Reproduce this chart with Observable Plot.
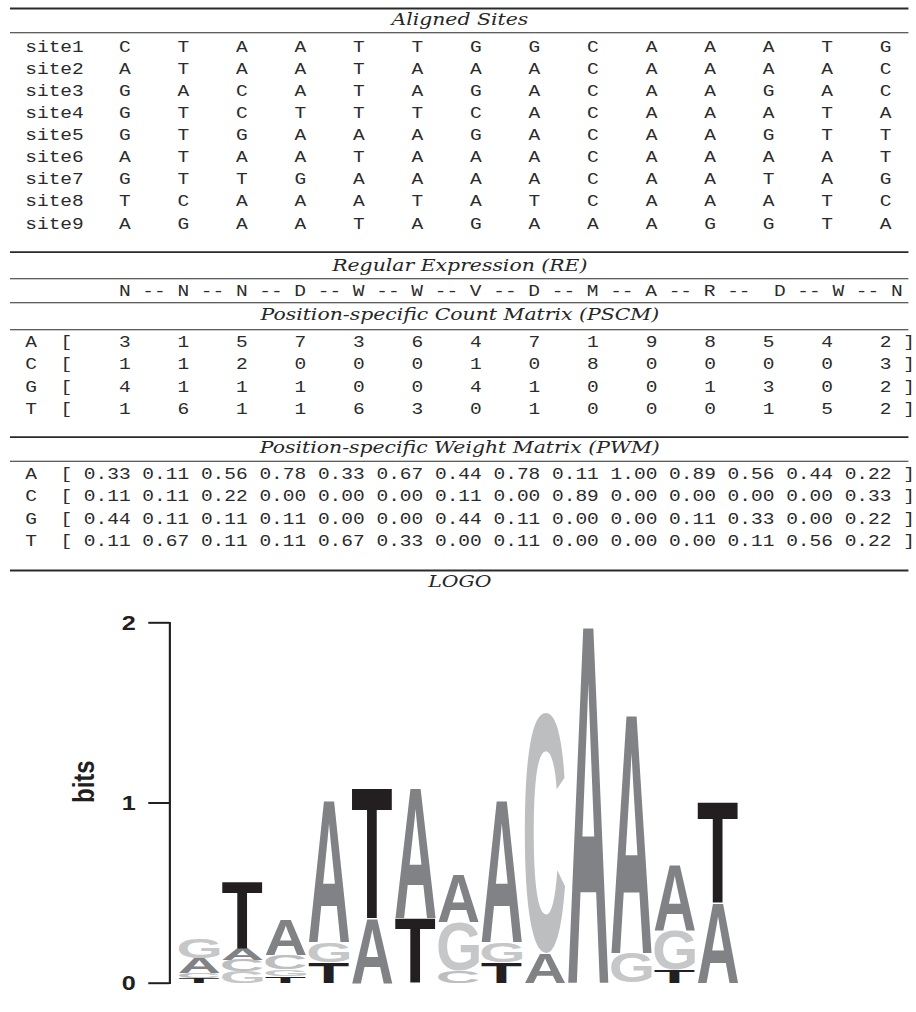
<!DOCTYPE html>
<html>
<head>
<meta charset="utf-8">
<script src="https://cdn.jsdelivr.net/npm/d3@7"></script>
<script src="https://cdn.jsdelivr.net/npm/@observablehq/plot@0.6"></script>
<style>
  html, body { margin: 0; padding: 0; background: #fff; }
  #chart svg { display: block; }
</style>
</head>
<body>
<div id="chart"></div>
<script>
// ---------------- DATA ----------------
const siteNames = ["site1", "site2", "site3", "site4", "site5", "site6", "site7", "site8", "site9"];
const sites = [
  "CTAATTGGCAAATG",
  "ATAATAAACAAAAC",
  "GACATAGACAAGAC",
  "GTCTTTCACAAATA",
  "GTGAAAGACAAGTT",
  "ATAATAAACAAAAT",
  "GTTGAAAACAATAG",
  "TCAAATATCAAATC",
  "AGAATAGAAAGGTA"
];
const reRow = "N -- N -- N -- D -- W -- W -- V -- D -- M -- A -- R --  D -- W -- N";
const bases = ["A", "C", "G", "T"];
const positions = [1, 2, 3, 4, 5, 6, 7, 8, 9, 10, 11, 12, 13, 14];

const countA = [3, 1, 5, 7, 3, 6, 4, 7, 1, 9, 8, 5, 4, 2];
const countC = [1, 1, 2, 0, 0, 0, 1, 0, 8, 0, 0, 0, 0, 3];
const countG = [4, 1, 1, 1, 0, 0, 4, 1, 0, 0, 1, 3, 0, 2];
const countT = [1, 6, 1, 1, 6, 3, 0, 1, 0, 0, 0, 1, 5, 2];

const pwmA = [0.33, 0.11, 0.56, 0.78, 0.33, 0.67, 0.44, 0.78, 0.11, 1.00, 0.89, 0.56, 0.44, 0.22];
const pwmC = [0.11, 0.11, 0.22, 0.00, 0.00, 0.00, 0.11, 0.00, 0.89, 0.00, 0.00, 0.00, 0.00, 0.33];
const pwmG = [0.44, 0.11, 0.11, 0.11, 0.00, 0.00, 0.44, 0.11, 0.00, 0.00, 0.11, 0.33, 0.00, 0.22];
const pwmT = [0.11, 0.67, 0.11, 0.11, 0.67, 0.33, 0.00, 0.11, 0.00, 0.00, 0.00, 0.11, 0.56, 0.22];

const sectionTitles = [
  "Aligned Sites",
  "Regular Expression (RE)",
  "Position-specific Count Matrix (PSCM)",
  "Position-specific Weight Matrix (PWM)",
  "LOGO"
];
const bitTicks = [0, 1, 2];
const axisLabel = "bits";
const baseColors = ["#808285", "#bdbec0", "#c6c7c9", "#231f20"];

// ---------------- LAYOUT ----------------
const W = 916, VW = 763;              // page width, drawing width (stretched horizontally)
const H1 = 592, H2 = 1012 - H1;       // table part, logo part
const CH = 9.75;                      // monospace advance (drawing units)
const monoSize = CH / 0.6;
const colEnd = i => 11 + 5 * i;       // right edge of column i in character cells
const siteY = r => 46 + 22.1 * r;
const cntY = k => 341 + 22.45 * k;
const pwmY = k => 473 + 22.4 * k;
const reY = 290.5;
const titleY = [19, 265, 314.5, 447.5, 580.7];
const thickRules = [8, 251.7, 436.7, 570];
const thinRules = [32.3, 278.3, 302.3, 329.3, 460.7];

const mono = {fontFamily: "'Liberation Mono', 'DejaVu Sans Mono', monospace", fontSize: monoSize, fill: "#2b2b2b"};
const counts = [countA, countC, countG, countT];
const pwm = [pwmA, pwmC, pwmG, pwmT];
const fmt = d3.format(".2f");

const siteCells = sites.flatMap((seq, r) => Array.from(seq, (b, i) => ({r, i, b})));
const countCells = bases.flatMap((b, k) => counts[k].map((v, i) => ({k, i, v})));
const pwmCells = bases.flatMap((b, k) => pwm[k].map((v, i) => ({k, i, v})));
const titles = sectionTitles.map((t, j) => ({t, y: titleY[j]}));

const table = Plot.plot({
  width: VW, height: H1,
  marginLeft: 8.3, marginRight: 6.3, marginTop: 0, marginBottom: 0,
  x: {domain: [0, 78], range: [1.05, 1.05 + 78 * CH], axis: null},
  y: {type: "identity", axis: null},
  style: {background: "white", whiteSpace: "pre"},
  marks: [
    Plot.ruleY(thickRules, {y: d => d, stroke: "#2a2a2a", strokeWidth: 1.8}),
    Plot.ruleY(thinRules, {y: d => d, stroke: "#2a2a2a", strokeWidth: 1.1}),
    Plot.text(titles, {y: "y", text: "t", frameAnchor: "middle",
      fontFamily: "'DejaVu Serif', serif", fontStyle: "italic", fontSize: 17, fill: "#262626"}),
    // Aligned sites
    Plot.text(siteNames, {x: () => 2, y: (d, i) => siteY(i), text: d => d, textAnchor: "start", ...mono}),
    Plot.text(siteCells, {x: d => colEnd(d.i), y: d => siteY(d.r), text: "b", textAnchor: "end", ...mono}),
    // Regular expression
    Plot.text([reRow], {x: () => 10, y: () => reY, text: d => d, textAnchor: "start", ...mono}),
    // PSCM
    Plot.text(bases, {x: () => 2, y: (d, i) => cntY(i), text: d => d, textAnchor: "start", ...mono}),
    Plot.text(bases, {x: () => 5, y: (d, i) => cntY(i), text: () => "[", textAnchor: "start", ...mono}),
    Plot.text(countCells, {x: d => colEnd(d.i), y: d => cntY(d.k), text: d => String(d.v), textAnchor: "end", ...mono}),
    Plot.text(bases, {x: () => 77, y: (d, i) => cntY(i), text: () => "]", textAnchor: "start", ...mono}),
    // PWM
    Plot.text(bases, {x: () => 2, y: (d, i) => pwmY(i), text: d => d, textAnchor: "start", ...mono}),
    Plot.text(bases, {x: () => 5, y: (d, i) => pwmY(i), text: () => "[", textAnchor: "start", ...mono}),
    Plot.text(pwmCells, {x: d => colEnd(d.i), y: d => pwmY(d.k), text: d => fmt(d.v), textAnchor: "end", ...mono}),
    Plot.text(bases, {x: () => 77, y: (d, i) => pwmY(i), text: () => "]", textAnchor: "start", ...mono})
  ]
});

// ---------------- LOGO ----------------
const logoLetters = [];
positions.forEach((pos, i) => {
  const col = bases.map((b, k) => ({b, p: pwm[k][i]}));
  const H = -d3.sum(col, d => (d.p > 0 ? d.p * Math.log2(d.p) : 0));
  const ic = 2 - H;
  if (ic < 0.05) return; // near-zero stack is not drawn in the reference
  const stack = col.filter(d => d.p > 0)
    .sort((a, b) => a.p - b.p || bases.indexOf(b.b) - bases.indexOf(a.b));
  let y = 0;
  for (const d of stack) {
    const h = d.p * ic;
    logoLetters.push({pos, base: d.b, y1: y, y2: y + h});
    y += h;
  }
});

const LETTER_FONT = "'Liberation Sans', Arial, sans-serif";
const logo = Plot.plot({
  width: VW, height: H2,
  marginTop: 30.3, marginBottom: 29.3, marginLeft: 141, marginRight: 107,
  x: {type: "band", domain: positions, range: [145, 655.7], padding: 0, axis: null},
  y: {domain: [0, 2], axis: null},
  color: {domain: bases, range: baseColors},
  style: {background: "white"},
  marks: [
    Plot.text(logoLetters, {x: "pos", y: "y2", text: "base", fill: "base",
      fontFamily: LETTER_FONT, fontWeight: "bold", fontSize: 100,
      textAnchor: "start", lineAnchor: "bottom"}),
    Plot.frame({anchor: "left", stroke: "#231f20", strokeWidth: 1.8}),
    Plot.axisY({ticks: bitTicks, tickSize: 17.5, tickPadding: 11, tickFormat: d => String(d),
      label: null, color: "#231f20", strokeWidth: 2,
      fontFamily: LETTER_FONT, fontWeight: "bold", fontSize: 21}),
    Plot.text([axisLabel], {frameAnchor: "left", dx: -71, rotate: -90, text: d => d,
      fontFamily: LETTER_FONT, fontWeight: "bold", fontSize: 24, fill: "#231f20"})
  ]
});

// ---------------- ASSEMBLE ----------------
function stretch(svg, h) {
  svg.setAttribute("width", W);
  svg.setAttribute("height", h);
  svg.setAttribute("preserveAspectRatio", "none");
  svg.style.width = W + "px";
  svg.style.height = h + "px";
  svg.style.maxWidth = "none";
}
stretch(table, H1);
stretch(logo, H2);
const chart = document.getElementById("chart");
chart.appendChild(table);
chart.appendChild(logo);

// Fit each logo glyph exactly into its stacked box (positions from Plot's own scales)
const xs = logo.scale("x"), ys = logo.scale("y");
const ctx = document.createElement("canvas").getContext("2d");
ctx.font = "bold 100px 'Liberation Sans'";
const ink = {};
for (const b of bases) {
  const m = ctx.measureText(b);
  ink[b] = {l: m.actualBoundingBoxLeft, r: m.actualBoundingBoxRight, a: m.actualBoundingBoxAscent, d: m.actualBoundingBoxDescent};
}
const letterGroup = Array.from(logo.querySelectorAll("g")).find(gr =>
  gr.getAttribute("font-size") === "100" &&
  gr.querySelectorAll(":scope > text").length === logoLetters.length);
if (letterGroup) {
  letterGroup.removeAttribute("transform");
  const pad = 1.1;
  letterGroup.querySelectorAll(":scope > text").forEach((el, i) => {
    const d = logoLetters[i];
    const m = ink[d.base];
    const bx = xs.apply(d.pos);
    const x0 = bx + pad, x1 = bx + xs.bandwidth - pad;
    const yTop = ys.apply(d.y2), yBot = ys.apply(d.y1);
    const sx = (x1 - x0) / (m.l + m.r);
    const sy = Math.max(0.0001, (yBot - yTop)) / (m.a + m.d);
    el.removeAttribute("y");
    el.removeAttribute("dy");
    el.setAttribute("transform", `translate(${x0 + m.l * sx},${yTop + m.a * sy}) scale(${sx},${sy})`);
  });
}
</script>
</body>
</html>
